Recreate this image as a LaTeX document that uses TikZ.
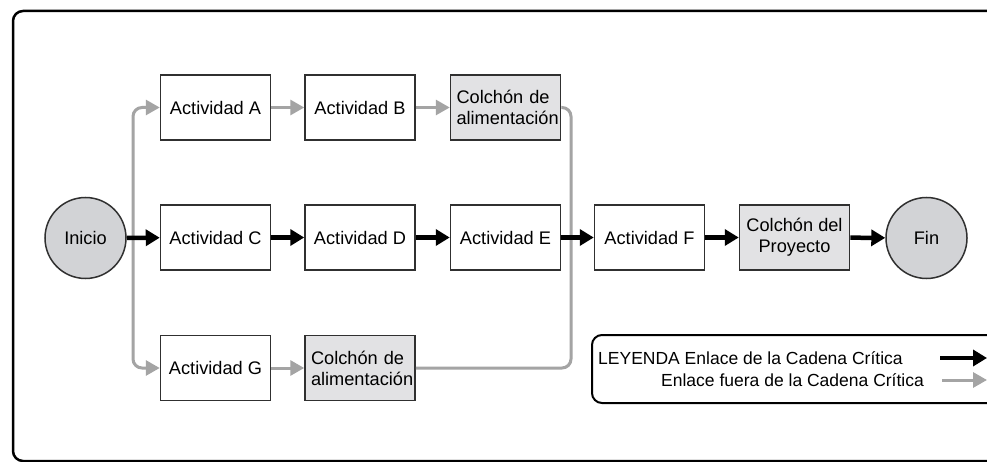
\documentclass[tikz,border=0pt]{standalone}
\usepackage{fontspec}
\setmainfont{Liberation Sans}
\usetikzlibrary{arrows.meta}
\definecolor{lgray}{HTML}{A4A4A4}
\definecolor{bufgray}{HTML}{E2E2E4}
\definecolor{circgray}{HTML}{D2D3D6}
\definecolor{edge}{HTML}{303030}
\begin{document}
\begin{tikzpicture}[x=1pt,y=-1pt,
  font=\fontsize{18.2}{21}\selectfont,
  actbox/.style={draw=edge, line width=1.5pt, fill=white, minimum width=110pt, minimum height=65pt, inner sep=0pt},
  bufbox/.style={actbox, fill=bufgray},
  bufleft/.style={bufbox, text width=98pt, align=left, inner xsep=6pt},
  endcirc/.style={circle, draw=edge, line width=1.5pt, fill=circgray, minimum size=81pt, inner sep=0pt},
  crit/.style={line width=4.5pt, black, -{Triangle[length=14pt,width=16pt]}},
  noncrit/.style={line width=3pt, lgray, -{Triangle[length=14pt,width=15pt]}},
  feed/.style={line width=3pt, lgray, rounded corners=9pt},
  legtext/.style={anchor=west, inner sep=0pt, font=\fontsize{17.5}{20}\selectfont}
]
\useasboundingbox (0,0) rectangle (987,462);
\clip (0,0) rectangle (987,462);
\fill[white] (0,0) rectangle (987,462);
% outer frame
\draw[line width=2.5pt, rounded corners=10pt] (13,461) rectangle (1010,11);
% nodes
\node[endcirc] (ini) at (85.5,238) {Inicio};
\node[actbox] (a) at (215.5,107.5) {Actividad A};
\node[actbox] (b) at (360,107.5) {Actividad B};
\node[bufleft] (ct) at (505.5,107.5) {Colchón de\\alimentación};
\node[actbox] (c) at (215.5,237.5) {Actividad C};
\node[actbox] (d) at (360,237.5) {Actividad D};
\node[actbox] (e) at (505.5,237.5) {Actividad E};
\node[actbox] (f) at (649.5,237.5) {Actividad F};
\node[bufbox, align=center] (p) at (794.5,237.5) {Colchón del\\Proyecto};
\node[endcirc] (fin) at (926.5,238) {Fin};
\node[actbox] (g) at (215.5,368) {Actividad G};
\node[bufleft] (cb) at (360,368) {Colchón de\\alimentación};
% junctions
\coordinate (split) at (133,237.5);
\coordinate (join) at (571,237.5);
% non-critical links
\draw[noncrit, rounded corners=9pt] (split) |- (a.west);
\draw[noncrit, rounded corners=9pt] (split) |- (g.west);
\draw[noncrit] (a) -- (b);
\draw[noncrit] (b) -- (ct);
\draw[noncrit] (g) -- (cb);
\draw[feed] (ct.east) -| (join);
\draw[feed] (cb.east) -| (join);
% critical links
\draw[crit] (ini) -- (c);
\draw[crit] (c) -- (d);
\draw[crit] (d) -- (e);
\draw[crit] (e) -- (f);
\draw[crit] (f) -- (p);
\draw[crit] (p) -- (fin);
% legend
\draw[line width=2pt, rounded corners=10pt] (592,335) rectangle (1010,403);
\node[legtext] (leg1) at (598,358) {LEYENDA Enlace de la Cadena Crítica};
\node[legtext] (leg2) at (661,380) {Enlace fuera de la Cadena Crítica};
\coordinate (lk1s) at (940,358);
\coordinate (lk1e) at (987,358);
\coordinate (lk2s) at (942,380);
\coordinate (lk2e) at (987,380);
\draw[crit] (lk1s) -- (lk1e);
\draw[noncrit] (lk2s) -- (lk2e);
\end{tikzpicture}
\end{document}
